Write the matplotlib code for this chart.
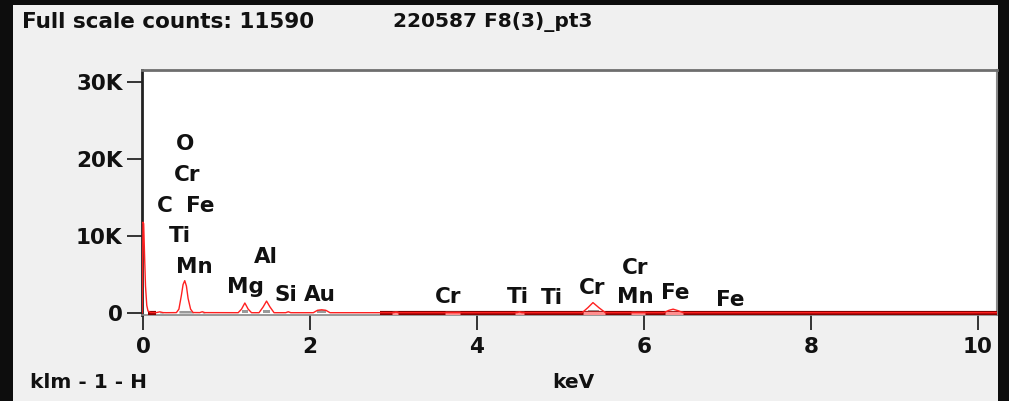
import numpy as np
import matplotlib
matplotlib.use("Agg")
import matplotlib.pyplot as plt
from matplotlib.patches import Rectangle

# spectrum (keV, counts)
spec_kev = [-0.01, 0.0, 0.008, 0.02, 0.03, 0.045, 0.06, 0.09, 0.16, 0.2, 0.24, 0.28,
            0.40, 0.43, 0.46, 0.48, 0.50, 0.52, 0.54, 0.57, 0.60, 0.68, 0.71, 0.74,
            1.14, 1.18, 1.22, 1.26, 1.30, 1.39, 1.44, 1.48, 1.52, 1.57, 1.71, 1.74, 1.77,
            2.04, 2.09, 2.14, 2.19, 2.24, 3.00, 3.03, 3.06, 4.48, 4.51, 4.54,
            5.26, 5.33, 5.39, 5.46, 5.54, 6.24, 6.30, 6.35, 6.41, 6.47, 10.3]
spec_cnt = [0, 11800, 11600, 7000, 3500, 1000, 250, 60, 50, 150, 50, 40,
            50, 500, 2300, 3700, 4200, 3500, 1900, 500, 60, 50, 160, 50,
            40, 500, 1300, 500, 40, 40, 800, 1550, 800, 40, 40, 160, 40,
            40, 350, 420, 350, 40, 40, 120, 40, 40, 150, 40,
            40, 700, 1350, 700, 40, 40, 350, 500, 300, 40, 40]

# region-of-interest windows (keV)
roi_lo = [0.06, 0.19, 0.42, 0.70, 1.16, 1.41, 1.73, 2.05, 2.98, 3.62, 4.46, 5.27, 5.85, 6.25]
roi_hi = [0.15, 0.25, 0.60, 0.77, 1.29, 1.56, 1.76, 2.23, 3.05, 3.80, 4.56, 5.53, 6.01, 6.47]

# element labels (text, keV, counts)
lbl_text = ["O", "Cr", "C", "Fe", "Ti", "Mn", "Mg", "Al", "Si", "Au",
            "Cr", "Ti", "Ti", "Cr", "Cr", "Mn", "Fe", "Fe"]
lbl_kev = [0.50, 0.53, 0.26, 0.69, 0.44, 0.61, 1.23, 1.47, 1.71, 2.12,
           3.65, 4.49, 4.90, 5.38, 5.90, 5.90, 6.37, 7.04]
lbl_cnt = [22000, 17900, 13900, 13900, 10000, 5970, 3370, 7270, 2330, 2330,
           2070, 2070, 1950, 3240, 5840, 2070, 2600, 1680]

yticks = [0, 10000, 20000, 30000]
ytick_labels = ["0", "10K", "20K", "30K"]
xticks = [0, 2, 4, 6, 8, 10]

W, H = 1009, 401
plt.rcParams["font.family"] = "DejaVu Sans"
plt.rcParams["font.weight"] = "bold"

fig = plt.figure(figsize=(W / 100, H / 100), dpi=100, facecolor="#0d0d0d")
fig.patches.append(Rectangle((13 / W, 0), 985 / W, 1 - 5 / H, transform=fig.transFigure,
                             facecolor="#f0f0f0", edgecolor="none", zorder=-10))

ax = fig.add_axes([142 / W, 1 - 315 / H, 855 / W, 245 / H])
ax.set_zorder(1)
ax.set_facecolor("white")
ax.set_xlim(-0.012, 10.23)
ax.set_ylim(-260, 31560)

kev = np.array(spec_kev)
cnt = np.array(spec_cnt)

# gray ROI fills at the foot of the peaks
for lo, hi in zip(roi_lo, roi_hi):
    m = (kev >= lo) & (kev <= hi)
    ax.fill_between(kev[m], 0, np.minimum(cnt[m], 330), color="#9a9a9a", lw=0, zorder=2)

# dark red baseline band
ax.plot([0.06, 0.15], [0, 0], color="#8b0000", lw=3, solid_capstyle="butt", zorder=3)
ax.plot([2.84, 10.23], [0, 0], color="#8b0000", lw=3, solid_capstyle="butt", zorder=3)
for lo, hi in zip(roi_lo[8:], roi_hi[8:]):
    ax.plot([lo, hi], [0, 0], color="#ff9090", lw=2.5, solid_capstyle="butt", zorder=3)

ax.plot(kev, cnt, color="#ff2020", lw=1.0, zorder=4)

for t, x, y in zip(lbl_text, lbl_kev, lbl_cnt):
    ax.text(x, y, t, ha="center", va="center", fontsize=15.5, fontweight="bold", color="#111111", zorder=5)

ax.set_yticks(yticks)
ax.set_yticklabels(ytick_labels)
ax.set_xticks(xticks)
ax.tick_params(axis="both", labelsize=15.5, length=11, width=1.4, color="#333333", labelcolor="#111111")
ax.tick_params(axis="y", pad=3)
ax.tick_params(axis="x", pad=5)

ax.spines["left"].set_color("#222222")
ax.spines["left"].set_linewidth(2)
ax.spines["top"].set_color("#6e6e6e")
ax.spines["top"].set_linewidth(2)
ax.spines["right"].set_color("#8a8a8a")
ax.spines["right"].set_linewidth(1.5)
ax.spines["bottom"].set_color("#888888")
ax.spines["bottom"].set_linewidth(1.2)

fig.text(22 / W, 1 - 22 / H, "Full scale counts: 11590", fontsize=15.5, fontweight="bold",
         color="#111111", ha="left", va="center")
fig.text(393 / W, 1 - 22 / H, "220587 F8(3)_pt3", fontsize=14.5, fontweight="bold",
         color="#111111", ha="left", va="center")
fig.text(30 / W, 1 - 383 / H, "klm - 1 - H", fontsize=14.5, fontweight="bold",
         color="#111111", ha="left", va="center")
fig.text(573 / W, 1 - 383 / H, "keV", fontsize=14.5, fontweight="bold",
         color="#111111", ha="center", va="center")

fig.savefig("out.png", dpi=100, facecolor=fig.get_facecolor())
